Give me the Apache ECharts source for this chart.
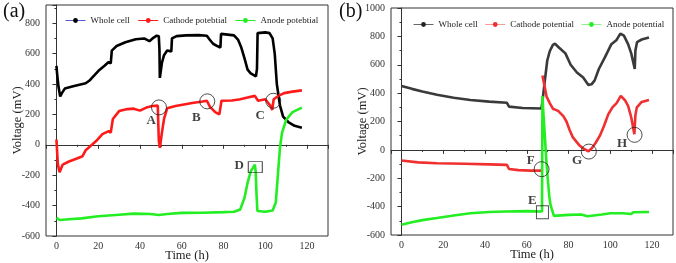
<!DOCTYPE html>
<html>
<head>
<meta charset="utf-8">
<script src="https://cdn.jsdelivr.net/npm/echarts@6/dist/echarts.min.js"></script>
<style>
  html, body { margin: 0; padding: 0; background: #fff; }
  #chart { width: 676px; height: 263px; }
</style>
</head>
<body>
<div id="chart"></div>
<script>
// panel (a) - [time h, voltage mV]
const wholeA = [[0,520],[0.3,470],[1,380],[1.8,318],[2.6,340],[4,370],[8,385],[11,395],[14,405],[16,425],[20,485],[23,520],[25,545],[26,535],[26.5,620],[28.8,650],[33,675],[38,695],[42,700],[44.5,682],[46,700],[48,718],[49,715],[49.3,630],[49.5,440],[50.5,540],[51.5,590],[53,620],[55,615],[55.3,700],[57.5,715],[62,720],[68,722],[72,718],[73.5,690],[75,665],[77,650],[78.5,640],[78.8,730],[82,725],[85,720],[87,690],[88.5,640],[90,570],[91.5,495],[93,470],[95.5,450],[96,500],[96.3,735],[100,740],[102,735],[103.5,700],[104.5,600],[105.5,400],[107,260],[108.5,185],[111,150],[114,125],[117.5,112]];
const cathodeA = [[0,35],[0.3,-40],[0.7,-130],[1.5,-180],[3,-130],[6,-110],[9.5,-92],[12.5,-75],[14,-35],[17,0],[19,25],[22,70],[25,90],[26,80],[27,170],[30,222],[34,235],[37,238],[40,225],[43,245],[46,255],[48.5,258],[49,30],[49.5,-20],[50.5,80],[51.5,170],[53,240],[57,255],[61,265],[65,275],[70,285],[72,290],[73.5,250],[76,215],[78,200],[79,290],[84,292],[88,300],[91,310],[95,322],[96.5,290],[100,300],[102.5,255],[103.3,230],[104,300],[106,320],[109,340],[113,350],[117.5,358]];
const anodeA = [[0,-480],[1.5,-495],[6,-490],[12,-484],[20,-470],[30,-460],[37,-453],[45,-455],[49,-462],[53,-455],[60,-448],[70,-447],[80,-443],[85,-440],[88,-425],[90,-350],[91.5,-250],[93,-175],[95,-130],[95.4,-180],[95.8,-330],[96.2,-435],[100,-440],[103.5,-432],[105,-380],[106,-200],[107,-20],[108,80],[110,165],[113,215],[117.5,245]];

// panel (b); '-' marks a break in the recorded trace
const wholeB = [[0,450],[5,430],[10,412],[17,388],[25,368],[33,352],[42,340],[50.5,332],[51.5,305],[58,295],[67,292],[67.5,340],[68.5,470],[69.8,630],[71,695],[72.5,740],[73.5,748],[75.5,720],[78.5,680],[81,600],[84,545],[87,510],[89.5,458],[91,462],[92.5,490],[94.5,570],[97.5,655],[100.5,745],[103,775],[104.8,820],[106.5,805],[108.5,745],[110,680],[111.7,570],[112,700],[112.8,760],[115,778],[118.5,792]];
const cathodeB = [[0,-75],[8,-88],[17,-94],[30,-98],[42,-102],[50.5,-106],[51.5,-135],[56,-143],[62,-146],[67.3,-146],[67.4,'-'],[67.5,525],[68.5,450],[69.5,375],[71,330],[72.5,290],[75,275],[77.5,238],[79,200],[80.5,140],[82,90],[85,35],[87,10],[89.5,-10],[91,10],[93,50],[95,100],[97,170],[99,250],[101,300],[103,330],[105,380],[107,350],[108.5,310],[110,230],[111,150],[111.5,110],[112,245],[112.7,300],[115,338],[118.5,352]];
const anodeB = [[0,-528],[5,-510],[10,-495],[17,-480],[25,-462],[33,-447],[42,-438],[50,-434],[60,-432],[67.3,-434],[67.5,380],[68,250],[68.5,130],[69.3,-60],[70,-200],[70.8,-330],[71.4,-390],[71.8,-385],[73,-465],[80,-458],[86,-455],[89,-468],[92,-462],[96,-455],[100,-447],[106,-447],[110,-452],[111,-440],[118.5,-438]];

// annotations: [time, voltage, letter]
const circlesA = [[49.1,246],[72.2,286],[103.8,290]];
const boxesA = [[95.2,-147]];
const lettersA = [[45.4,158,'A'],[67,180,'B'],[97.5,191,'C'],[87.5,-139,'D']];
const circlesB = [[67.1,-136],[89.7,-12],[111.6,106]];
const boxesB = [[67.5,-439]];
const lettersB = [[62.7,-357,'E'],[61.9,-75,'F'],[84.1,-75,'G'],[105.6,47,'H']];

const FONT = 'Liberation Serif';
const AXIS_COLOR = '#333';

const chart = echarts.init(document.getElementById('chart'));

function xAxisOf(i) {
  return {
    gridIndex: i, type: 'value', min: -5, max: 130,
    splitNumber: 7, minInterval: 20, maxInterval: 20,
    name: 'Time (h)', nameLocation: 'middle', nameGap: 13, nameMoveOverlap: false,
    nameTextStyle: { fontFamily: FONT, fontSize: 12.5, color: '#222' },
    axisLine: { show: true, lineStyle: { color: AXIS_COLOR } },
    axisTick: { show: true, length: 4, lineStyle: { color: AXIS_COLOR } },
    minorTick: { show: true, splitNumber: 2, length: 2, lineStyle: { color: AXIS_COLOR } },
    axisLabel: { fontFamily: FONT, fontSize: 10, color: '#333', margin: 5, showMinLabel: false, showMaxLabel: false },
    splitLine: { show: false }
  };
}

function yAxisOf(i, max) {
  return {
    gridIndex: i, type: 'value', min: -600, max: max, interval: 200,
    name: 'Voltage (mV)', nameLocation: 'middle', nameGap: 22, nameMoveOverlap: false,
    nameTextStyle: { fontFamily: FONT, fontSize: 12.5, color: '#222' },
    axisLine: { show: true, lineStyle: { color: AXIS_COLOR } },
    axisTick: { show: true, length: 4, lineStyle: { color: AXIS_COLOR } },
    minorTick: { show: true, splitNumber: 2, length: 2, lineStyle: { color: AXIS_COLOR } },
    axisLabel: {
      fontFamily: FONT, fontSize: 10, color: '#333', margin: 6,
      formatter: (v) => (v % 200 === 0 ? String(v) : '')
    },
    splitLine: { show: false }
  };
}

function lineSeries(name, data, i, color, width) {
  return {
    name: name, type: 'line', data: data,
    xAxisIndex: i, yAxisIndex: i,
    symbol: 'circle', symbolSize: 4, showSymbol: false,
    connectNulls: false,
    lineStyle: { color: color, width: width },
    itemStyle: { color: color },
    emphasis: { disabled: true },
    z: 3
  };
}

function markSeries(pts, i, symbol, size) {
  return {
    type: 'scatter', data: pts, xAxisIndex: i, yAxisIndex: i,
    symbol: symbol, symbolSize: size,
    itemStyle: { color: 'rgba(0,0,0,0)', borderColor: '#222', borderWidth: 1 },
    silent: true, z: 5
  };
}

function letterSeries(pts, i) {
  return {
    type: 'scatter', data: pts, xAxisIndex: i, yAxisIndex: i,
    symbolSize: 0, silent: true, z: 6,
    label: {
      show: true, position: 'inside', formatter: (p) => p.data[2],
      fontFamily: FONT, fontSize: 13, fontWeight: 'bold', color: '#111'
    }
  };
}

const legendText = { fontFamily: FONT, fontSize: 9, color: '#222' };

const option = {
  animation: false,
  backgroundColor: '#fff',
  textStyle: { fontFamily: FONT },
  grid: [
    { left: 46, right: 348, top: 5, bottom: 27, show: true, borderColor: AXIS_COLOR, borderWidth: 1, outerBoundsMode: 'none' },
    { left: 391, right: 3, top: 8, bottom: 28, show: true, borderColor: AXIS_COLOR, borderWidth: 1, outerBoundsMode: 'none' }
  ],
  xAxis: [xAxisOf(0), xAxisOf(1)],
  yAxis: [yAxisOf(0, 920), yAxisOf(1, 1000)],
  legend: [
    {
      left: 60, top: 11, width: 320, itemWidth: 20, itemHeight: 6, itemGap: 8,
      textStyle: legendText,
      data: [
        { name: 'Whole cell', lineStyle: { color: '#5a5ad0', width: 1 }, itemStyle: { color: '#000' } },
        { name: 'Cathode potebtial', lineStyle: { width: 1 } },
        { name: 'Anode potebtial', lineStyle: { width: 1 } }
      ]
    },
    {
      left: 408, top: 15, width: 300, itemWidth: 20, itemHeight: 6, itemGap: 7,
      textStyle: legendText,
      data: [
        { name: 'Whole cell', lineStyle: { color: '#666', width: 1 }, itemStyle: { color: '#222' } },
        { name: 'Cathode potential', lineStyle: { color: '#f79a9a', width: 1 } },
        { name: 'Anode potential', lineStyle: { color: '#8df08d', width: 1 } }
      ]
    }
  ],
  graphic: [
    { type: 'text', left: 3, top: 2, style: { text: '(a)', fontFamily: FONT, fontSize: 20, fill: '#111' } },
    { type: 'text', left: 339, top: 2, style: { text: '(b)', fontFamily: FONT, fontSize: 20, fill: '#111' } }
  ],
  series: [
    lineSeries('Whole cell', wholeA, 0, '#000', 2.6),
    lineSeries('Cathode potebtial', cathodeA, 0, '#ff1a1a', 2.6),
    lineSeries('Anode potebtial', anodeA, 0, '#22ee22', 2.6),
    markSeries(circlesA, 0, 'circle', 15),
    markSeries(boxesA, 0, 'rect', [14, 11]),
    letterSeries(lettersA, 0),
    lineSeries('Whole cell', wholeB, 1, '#3a3a3a', 2.6),
    lineSeries('Cathode potential', cathodeB, 1, '#f03030', 2.6),
    lineSeries('Anode potential', anodeB, 1, '#22ee22', 2.6),
    markSeries(circlesB, 1, 'circle', 15),
    markSeries(boxesB, 1, 'rect', [12, 13]),
    letterSeries(lettersB, 1)
  ]
};

chart.setOption(option);
</script>
</body>
</html>
